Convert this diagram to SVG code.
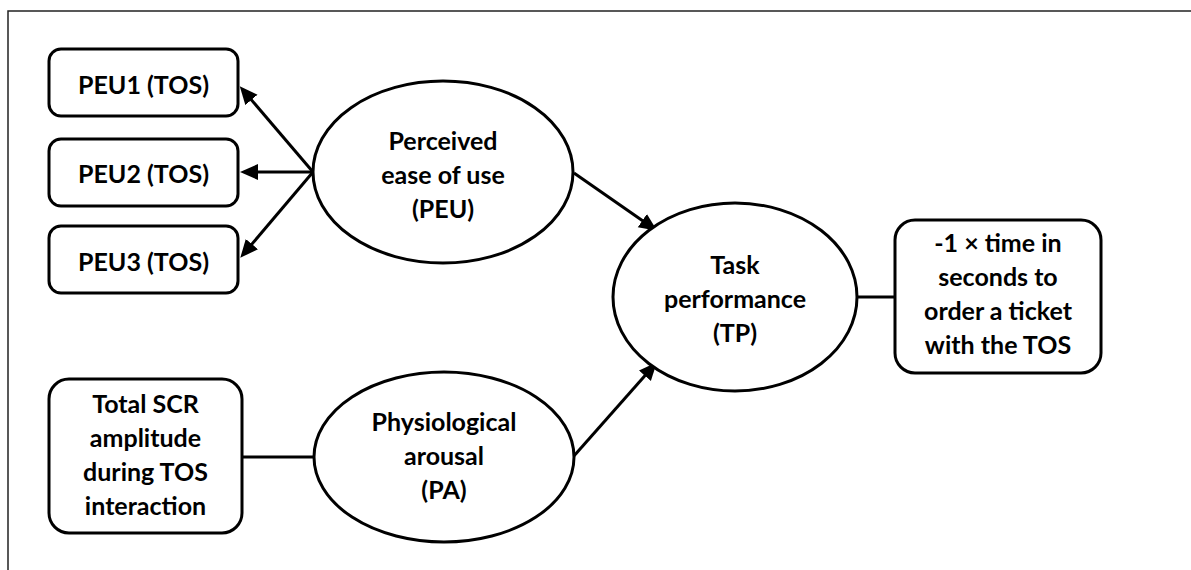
<svg xmlns="http://www.w3.org/2000/svg" width="1191" height="570" viewBox="0 0 1191 570">
  <style>
    .box { fill: #ffffff; stroke: #000000; stroke-width: 3; }
    .lv { fill: #ffffff; stroke: #000000; stroke-width: 3; }
    .lbl { font-family: Lato, "Liberation Sans", sans-serif; font-weight: bold; font-size: 25px; fill: #000000; text-anchor: middle; }
    .edge { stroke: #000000; stroke-width: 3; fill: none; }
    .arrow { marker-end: url(#head); }
    .frame { stroke: #222222; stroke-width: 1.5; fill: none; }
  </style>
  <defs>
    <marker id="head" markerUnits="userSpaceOnUse" markerWidth="20" markerHeight="18" refX="13" refY="8" orient="auto">
      <path d="M0,0 L18,8 L0,16 z" fill="#000000"/>
    </marker>
  </defs>

  <rect width="1191" height="570" fill="#ffffff"/>
  <!-- outer frame (top and left edges visible) -->
  <path class="frame" d="M8,580 L8,11 L1200,11"/>

  <!-- connectors -->
  <g id="connectors">
    <line class="edge arrow" x1="313" y1="172" x2="243" y2="90"/>
    <line class="edge arrow" x1="313" y1="172" x2="245" y2="172"/>
    <line class="edge arrow" x1="313" y1="172" x2="243.5" y2="254"/>
    <line class="edge arrow" x1="574" y1="173" x2="653" y2="228"/>
    <line class="edge arrow" x1="573" y1="457" x2="653.5" y2="366"/>
    <line class="edge" x1="857" y1="297" x2="895" y2="297"/>
    <line class="edge" x1="242" y1="457" x2="314" y2="457"/>
  </g>

  <g id="peu1">
    <rect class="box" x="49" y="49" width="189" height="67" rx="12"/>
    <text class="lbl" x="143.5" y="94">PEU1 (TOS)</text>
  </g>
  <g id="peu2">
    <rect class="box" x="49" y="139" width="189" height="67" rx="12"/>
    <text class="lbl" x="143.5" y="183">PEU2 (TOS)</text>
  </g>
  <g id="peu3">
    <rect class="box" x="49" y="226" width="189" height="67" rx="12"/>
    <text class="lbl" x="143.5" y="271">PEU3 (TOS)</text>
  </g>

  <g id="peu">
    <ellipse class="lv" cx="443" cy="172" rx="130" ry="91"/>
    <text class="lbl" x="443" y="150">Perceived</text>
    <text class="lbl" x="443" y="184">ease of use</text>
    <text class="lbl" x="443" y="218">(PEU)</text>
  </g>

  <g id="tp">
    <ellipse class="lv" cx="735" cy="297" rx="122" ry="94"/>
    <text class="lbl" x="735" y="274">Task</text>
    <text class="lbl" x="735" y="308">performance</text>
    <text class="lbl" x="735" y="342">(TP)</text>
  </g>

  <g id="tp-indicator">
    <rect class="box" x="895" y="220" width="206" height="153" rx="20"/>
    <text class="lbl" x="998" y="252">-1 × time in</text>
    <text class="lbl" x="998" y="286">seconds to</text>
    <text class="lbl" x="998" y="320">order a ticket</text>
    <text class="lbl" x="998" y="354">with the TOS</text>
  </g>

  <g id="scr">
    <rect class="box" x="49" y="379" width="193" height="154" rx="20"/>
    <text class="lbl" x="145.5" y="413">Total SCR</text>
    <text class="lbl" x="145.5" y="447">amplitude</text>
    <text class="lbl" x="145.5" y="481">during TOS</text>
    <text class="lbl" x="145.5" y="515">interaction</text>
  </g>

  <g id="pa">
    <ellipse class="lv" cx="444" cy="457" rx="130" ry="85"/>
    <text class="lbl" x="444" y="431">Physiological</text>
    <text class="lbl" x="444" y="465">arousal</text>
    <text class="lbl" x="444" y="499">(PA)</text>
  </g>
</svg>
